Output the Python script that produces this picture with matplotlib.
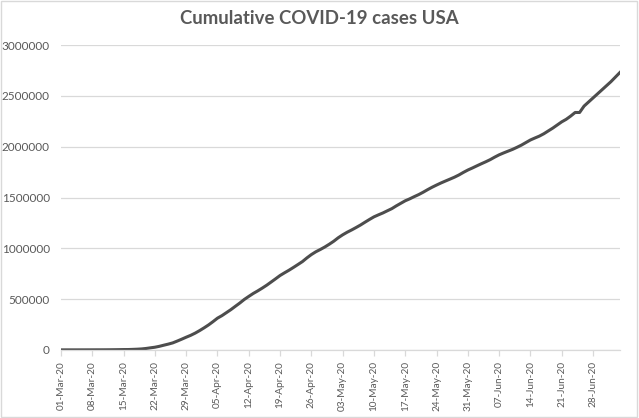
import numpy as np
import pandas as pd
import matplotlib
matplotlib.use('Agg')
import matplotlib.pyplot as plt
import matplotlib.dates as mdates
from matplotlib.patches import Rectangle

# data (daily cumulative cases, 01-Mar-20 .. 04-Jul-20)
start_date = '2020-03-01'
cases = [
    # March
    30, 32, 55, 74, 107, 184, 237, 403, 519, 594,
    782, 1147, 1586, 2219, 2978, 3212, 4679, 6512, 9169, 13663,
    20030, 26025, 34944, 46096, 56714, 68841, 86662, 105253, 124665, 143025,
    164620,
    # April
    189618, 216721, 245540, 277965, 312237, 337072, 366667, 396223, 429052, 461437,
    496535, 526396, 555313, 580619, 607670, 636350, 667801, 699706, 732197, 758809,
    784326, 811865, 840351, 869170, 905358, 938154, 965785, 988197, 1012582, 1039909,
    # May
    1069424, 1103461, 1132539, 1158040, 1180375, 1204351, 1229331, 1257023, 1283929, 1309550,
    1329260, 1347881, 1369376, 1390406, 1417774, 1442824, 1467820, 1486757, 1508308, 1528568,
    1551853, 1577147, 1600937, 1622612, 1643246, 1662302, 1680913, 1699933, 1721750, 1747087,
    1770384,
    # June
    1790191, 1811277, 1831821, 1851520, 1872660, 1897380, 1920061, 1938823, 1956421, 1973797,
    1994283, 2016027, 2041351, 2066401, 2085769, 2104346, 2127742, 2155572, 2183198, 2214021,
    2244792, 2269734, 2301474, 2337072, 2337072, 2400000, 2440000, 2480000, 2520000, 2560000,
    # July
    2600000, 2640000, 2685000, 2730000,
]
dates = pd.date_range(start_date, periods=len(cases), freq='D')
tick_dates = dates[::7]
title = 'Cumulative COVID-19 cases USA'

plt.rcParams['font.family'] = ['Lato', 'DejaVu Sans']
text_col = '#595959'
grid_col = '#d9d9d9'

fig = plt.figure(figsize=(6.39, 4.18), dpi=100)
ax = fig.add_axes([0.0955, 0.163, 0.8745, 0.729])

ax.plot(dates, cases, color='#4d4d4d', linewidth=2.2, solid_joinstyle='round')

ax.set_xlim(dates[0], dates[-1])
ax.set_ylim(0, 3000000)
ax.set_yticks(np.arange(0, 3000001, 500000))
ax.yaxis.set_major_formatter(matplotlib.ticker.FuncFormatter(lambda v, p: '%d' % v))
ax.set_xticks(tick_dates)
ax.xaxis.set_major_formatter(mdates.DateFormatter('%d-%b-%y'))

ax.grid(axis='y', color=grid_col, linewidth=0.9)
ax.set_axisbelow(True)
for s in ['top', 'right', 'left']:
    ax.spines[s].set_visible(False)
ax.spines['bottom'].set_color(grid_col)
ax.spines['bottom'].set_linewidth(0.9)

ax.tick_params(axis='y', length=0, labelsize=8.5, labelcolor=text_col, pad=8)
ax.tick_params(axis='x', length=4, width=0.9, color=grid_col, labelsize=7.2,
               labelcolor=text_col, labelrotation=90, pad=4)

fig.text(0.5, 0.955, title, ha='center', va='center', fontsize=13.4,
         fontweight='bold', color=text_col)

# light border round the whole chart
fig.patches.append(Rectangle((0.002, 0.003), 0.995, 0.994, transform=fig.transFigure,
                             fill=False, edgecolor=grid_col, linewidth=1))

fig.savefig('out.png', dpi=100)
